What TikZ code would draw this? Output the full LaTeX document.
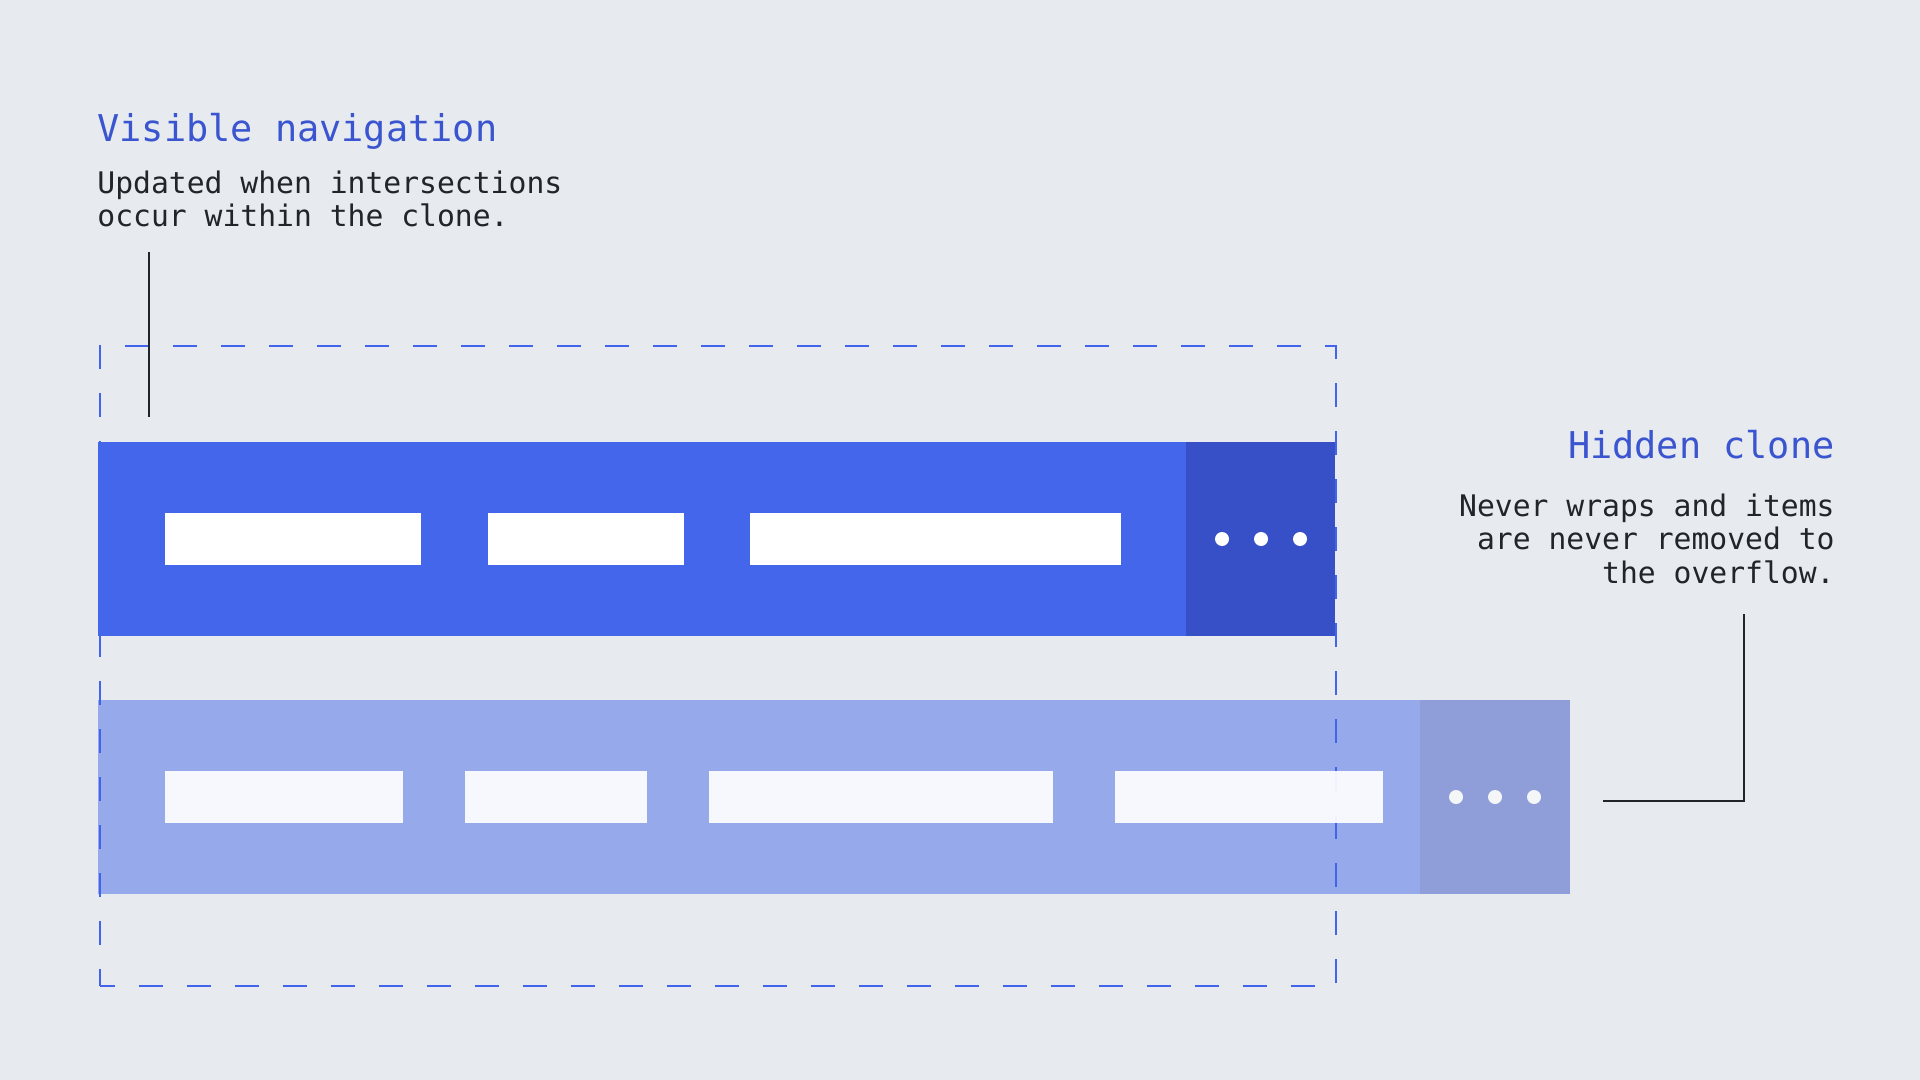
\documentclass[tikz,border=0pt]{standalone}
\usepackage{fontspec}
\setmonofont{DejaVu Sans Mono}
\usepackage{tikz}
\usetikzlibrary{positioning}

\definecolor{bgpage}{HTML}{E7EBEF}
\definecolor{navblue}{HTML}{4366EB}
\definecolor{navdark}{HTML}{3750C7}
\definecolor{clonelight}{HTML}{95A9EB}
\definecolor{clonedark}{HTML}{8F9ED9}
\definecolor{cloneitem}{HTML}{F4F6F8}
\definecolor{headblue}{HTML}{3A55CF}
\definecolor{inkdark}{HTML}{21252A}
\definecolor{dashblue}{HTML}{4263EB}

\begin{document}
\begin{tikzpicture}[x=0.5pt, y=-0.5pt,
	bar/.style={rectangle, inner sep=0pt, outer sep=0pt, minimum height=97pt, anchor=north west},
	item/.style={rectangle, inner sep=0pt, outer sep=0pt, minimum height=26pt, anchor=north west},
	dot/.style={circle, inner sep=0pt, outer sep=0pt, minimum size=7pt},
	head/.style={inner sep=0pt, text=headblue, font=\ttfamily\fontsize{18.45pt}{20pt}\selectfont},
	note/.style={inner sep=0pt, text=inkdark, font=\ttfamily\fontsize{14.85pt}{16.6pt}\selectfont},
	lead/.style={draw=inkdark, line width=1pt}]

\fill [bgpage] (0,0) rectangle (1920,1080);
\useasboundingbox (0,0) rectangle (1920,1080);

% hidden clone bar
\node at (98,700) [bar, fill=clonelight, minimum width=736pt] (clone) {};
\node at (1420,700) [bar, fill=clonedark, minimum width=75pt] (clonemore) {};

\node at (99,345) [rectangle, draw=dashblue, line width=1.1pt, dash pattern=on 12pt off 12pt, dash phase=4.5pt, minimum width=618pt, minimum height=320pt, anchor=north west, inner sep=0pt] (frame) {};

% visible navigation bar
\node at (98,442) [bar, fill=navblue, minimum width=618.5pt] (nav) {};
\node at (1186,442) [bar, fill=navdark, minimum width=74.5pt] (navmore) {};
\node at (165,513) [item, fill=white, minimum width=128pt] (navA) {};
\node at (488,513) [item, fill=white, minimum width=98pt] (navB) {};
\node at (750,513) [item, fill=white, minimum width=185.5pt] (navC) {};
\node at (1222,539) [dot, fill=white] (navdotA) {};
\node [dot, fill=white, right=12.5pt of navdotA] (navdotB) {};
\node [dot, fill=white, right=12.5pt of navdotB] (navdotC) {};

\node at (165,771) [item, fill=white, fill opacity=0.92, minimum width=119pt] (cloneA) {};
\node at (465,771) [item, fill=white, fill opacity=0.92, minimum width=91pt] (cloneB) {};
\node at (709,771) [item, fill=white, fill opacity=0.92, minimum width=172pt] (cloneC) {};
\node at (1115,771) [item, fill=white, fill opacity=0.92, minimum width=134pt] (cloneD) {};
\node at (1456,797) [dot, fill=cloneitem] (clonedotA) {};
\node [dot, fill=cloneitem, right=12.5pt of clonedotA] (clonedotB) {};
\node [dot, fill=cloneitem, right=12.5pt of clonedotB] (clonedotC) {};

% labels
\node at (97,142) [head, anchor=base west] (vistitle) {Visible navigation};
\node at (97,227) [note, anchor=base west, align=left] (visnote) {Updated when intersections\\occur within the clone.};
\node at (1835,458) [head, anchor=base east] (hidtitle) {Hidden clone};
\node at (1835,583) [note, anchor=base east, align=right] (hidnote) {Never wraps and items\\are never removed to\\the overflow.};

\coordinate (visleadtop) at (149,252);
\coordinate (visleadend) at (149,417);
\coordinate (hidleadtop) at (1744,614);
\coordinate (hidleadend) at (1603,801);
\draw [lead] (visleadtop) -- (visleadend);
\draw [lead] (hidleadtop) |- (hidleadend);

\end{tikzpicture}
\end{document}
